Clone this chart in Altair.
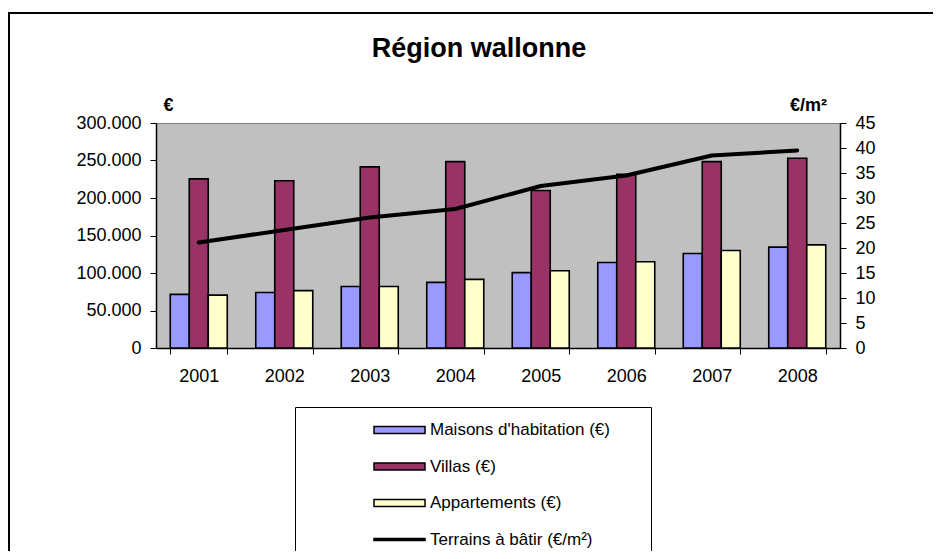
import altair as alt
import pandas as pd

years = ["2001", "2002", "2003", "2004", "2005", "2006", "2007", "2008"]
maisons = [71500, 74000, 82000, 87500, 100500, 114000, 126000, 134500]
villas = [225500, 223000, 241500, 248500, 210000, 231500, 248500, 253000]
apparts = [70500, 76500, 82000, 91500, 103000, 115000, 130000, 137500]
terrains = [21.1, 23.6, 26.1, 27.8, 32.4, 34.5, 38.5, 39.5]

series = [
    "Maisons d'habitation (€)",
    "Villas (€)",
    "Appartements (€)",
    "Terrains à bâtir (€/m²)",
]
colors = ["#9999FF", "#993366", "#FFFFCC", "#000000"]
shapes = [
    "M-1,-0.21L2,-0.21L2,0.21L-1,0.21Z",
    "M-1,-0.21L2,-0.21L2,0.21L-1,0.21Z",
    "M-1,-0.21L2,-0.21L2,0.21L-1,0.21Z",
    "M-1,-0.055L2,-0.055L2,0.055L-1,0.055Z",
]

FONT = "Liberation Sans"

bars_df = pd.DataFrame(
    [{"annee": y, "serie": series[0], "valeur": v} for y, v in zip(years, maisons)]
    + [{"annee": y, "serie": series[1], "valeur": v} for y, v in zip(years, villas)]
    + [{"annee": y, "serie": series[2], "valeur": v} for y, v in zip(years, apparts)]
)
line_df = pd.DataFrame({"annee": years, "serie": series[3], "valeur": terrains})
legend_df = pd.DataFrame({"serie": series})
one_df = pd.DataFrame({"k": [0]})

xscale = alt.Scale(domain=years, paddingInner=0.3333, paddingOuter=0.16667)

x_axis = alt.Axis(
    title=None, tickBand="extent", tickSize=6, labelPadding=13,
    domainColor="black", tickColor="black", labelAngle=0,
)

bars = alt.Chart(bars_df).mark_bar(stroke="black", strokeWidth=1.6).encode(
    x=alt.X("annee:N", scale=xscale, axis=x_axis),
    xOffset=alt.XOffset("serie:N", scale=alt.Scale(domain=series[:3], paddingInner=0, paddingOuter=0)),
    y=alt.Y(
        "valeur:Q",
        scale=alt.Scale(domain=[0, 300000], nice=False),
        axis=alt.Axis(
            orient="left", values=list(range(0, 300001, 50000)),
            labelExpr="replace(format(datum.value, ','), ',', '.')",
            title="€", titleAngle=0, titleX=12, titleY=-13, titleAlign="center",
            titleBaseline="alphabetic", titleFontSize=18, titleFontWeight="bold",
            tickSize=6, labelPadding=9, grid=False,
            domainColor="black", tickColor="black",
        ),
    ),
    fill=alt.Fill("serie:N", scale=alt.Scale(domain=series[:3], range=colors[:3]), legend=None),
)

line = alt.Chart(line_df).mark_line(color="black", strokeWidth=4, strokeJoin="round", strokeCap="round").encode(
    x=alt.X("annee:N", scale=xscale, axis=x_axis),
    y=alt.Y(
        "valeur:Q",
        scale=alt.Scale(domain=[0, 45], nice=False),
        axis=alt.Axis(
            orient="right", values=list(range(0, 46, 5)),
            title="€/m²", titleAngle=0, titleX=-32, titleY=-13, titleAlign="center",
            titleBaseline="alphabetic", titleFontSize=18, titleFontWeight="bold",
            tickSize=6, labelPadding=9, grid=False,
            domainColor="black", tickColor="black",
        ),
    ),
)

def legend_def():
    return alt.Legend(
        orient="none", legendX=139, legendY=284,
        title="\u00a0", titleOrient="left", titleFontSize=1, titlePadding=73,
        padding=5, strokeColor="black", fillColor="white",
        symbolSize=1156, symbolStrokeColor="black", symbolStrokeWidth=1.5,
        labelFont=FONT, labelFontSize=17, labelColor="black", labelOffset=21,
        rowPadding=10.5, labelLimit=400,
        # blank braille cells (not trimmed as whitespace) widen the box to the right
        labelExpr="datum.label + '\u2800\u2800\u2800'",
    )

legend_pts = alt.Chart(legend_df).mark_point(
    filled=True, opacity=1, stroke="black", strokeWidth=1.5, clip=True
).encode(
    x=alt.value(-1000),
    y=alt.value(-1000),
    color=alt.Color("serie:N", scale=alt.Scale(domain=series, range=colors), legend=legend_def()),
    shape=alt.Shape("serie:N", scale=alt.Scale(domain=series, range=shapes), legend=legend_def()),
)

frame_top = alt.Chart(one_df).mark_rule(color="black", strokeWidth=2).encode(
    x=alt.value(-148), x2=alt.value(790), y=alt.value(-110)
)
frame_left = alt.Chart(one_df).mark_rule(color="black", strokeWidth=2).encode(
    x=alt.value(-147), y=alt.value(-111), y2=alt.value(440)
)

chart = alt.layer(bars, line, legend_pts, frame_top, frame_left).resolve_scale(
    y="independent"
).properties(
    width=684,
    height=225,
    autosize=alt.AutoSizeParams(type="none"),
    padding={"left": 148, "top": 115, "right": 93, "bottom": 203},
    title=alt.Title(
        "Région wallonne", fontSize=27, font=FONT, fontWeight="bold", color="black",
        anchor="middle", frame="group", dx=-19, dy=73, offset=0, baseline="alphabetic",
    ),
).configure_view(
    fill="#C0C0C0", stroke="#808080", strokeWidth=1
).configure_axis(
    labelFont=FONT, labelFontSize=18, labelColor="black", titleFont=FONT, titleColor="black",
    domainWidth=1.5, tickWidth=1,
)

chart.save("out.html", embed_options={"renderer": "svg", "actions": False})
